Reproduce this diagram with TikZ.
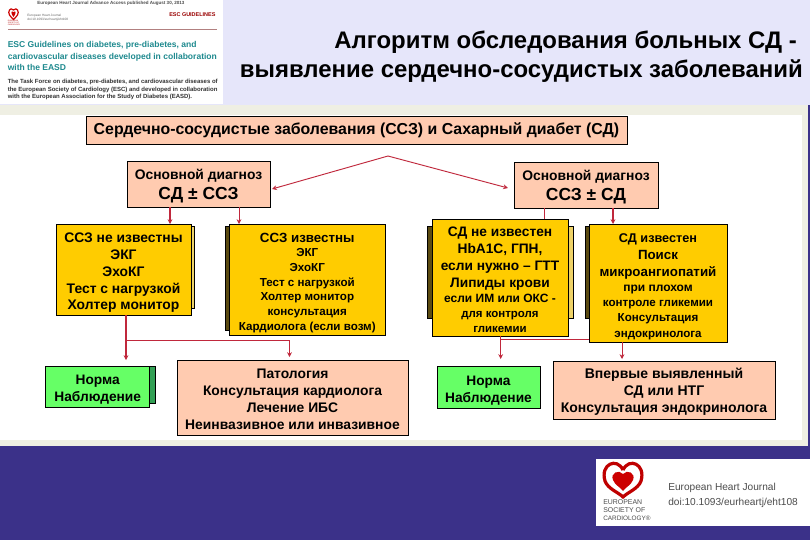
\documentclass[tikz,border=0pt]{standalone}
\usepackage{fontspec}
\usetikzlibrary{arrows.meta}
\setmainfont{Liberation Sans}
\definecolor{slidelav}{HTML}{E6E6FA}
\definecolor{slidenavy}{HTML}{3B3189}
\definecolor{slidebeige}{HTML}{EFEFE3}
\definecolor{peachbox}{HTML}{FFCBB0}
\definecolor{goldbox}{HTML}{FFCC00}
\definecolor{goldpale}{HTML}{F0D468}
\definecolor{golddark}{HTML}{5A4A10}
\definecolor{greenbox}{HTML}{66FF66}
\definecolor{greenback}{HTML}{33A055}
\definecolor{flowred}{HTML}{C0283C}
\definecolor{esctitle}{HTML}{1F8A8F}
\newcommand{\fs}[2]{\fontsize{#1}{#2}\selectfont}
\newcommand{\lsz}[1]{\fontsize{#1}{#1}\selectfont}
\newcommand{\drop}[1]{\rule{0pt}{#1pt}}

\begin{document}
\begin{tikzpicture}[
    x=0.75pt, y=-0.75pt,
    peach/.style={draw=black, fill=peachbox, line width=0.7pt, inner sep=0pt, align=center},
    gold/.style={draw=black, fill=goldbox, line width=0.7pt, inner sep=0pt, align=center},
    norma/.style={draw=black, fill=greenbox, line width=0.7pt, inner sep=0pt, align=center, font=\bfseries\fs{10.3}{12.75}},
    back/.style={draw=black, line width=0.7pt, inner sep=0pt},
    flow/.style={-{Stealth[length=3.6pt, width=3.6pt]}, draw=flowred, line width=0.7pt},
    flowfat/.style={flow, line width=1.2pt},
    tiny/.style={inner sep=0pt, anchor=west, align=left},
  ]
  \useasboundingbox (0,0) rectangle (810,540);

  % slide background
  \fill[slidelav] (0,0) rectangle (810,105);
  \fill[slidebeige] (0,105) rectangle (810,446);
  \fill[white] (0,115) rectangle (802,440);
  \fill[slidenavy] (0,446) rectangle (810,540);
  \fill[slidenavy] (808,105) rectangle (810,446);

  % paper header
  \fill[white] (0,0) rectangle (223,104);
  \node[tiny, font=\bfseries\fs{3.4}{4}, text=black!70] (hdr) at (37,3.5) {European Heart Journal Advance Access published August 30, 2013};
  \node[tiny, font=\bfseries\fs{4.1}{5}, text=red!60!black] (escg) at (169,15) {ESC GUIDELINES};
  \node[tiny, font=\fs{2.4}{3}, text=black!60] (ehj) at (27,18) {European Heart Journal\\doi:10.1093/eurheartj/eht108};
  \draw[red!80!black, line width=0.9pt] (13.5,10) .. controls (10,6.5) and (7.5,12) .. (9.5,15)
    .. controls (10.5,16.5) and (12,18) .. (13.5,19.5) .. controls (15,18) and (16.5,16.5) .. (17.5,15)
    .. controls (19.5,12) and (17,6.5) .. (13.5,10);
  \fill[red!80!black] (13.5,12) .. controls (11,10) and (10.5,13.5) .. (13.5,17)
    .. controls (16.5,13.5) and (16,10) .. (13.5,12);
  \node[tiny, font=\fs{1.4}{1.6}, text=red!70!black] (esctiny) at (7.5,23) {EUROPEAN\\SOCIETY OF\\CARDIOLOGY};
  \draw[red!40!black!50] (8,29) -- (217,29);
  \node[tiny, font=\bfseries\fs{6.4}{8.7}, text=esctitle] (esct) at (7.5,56)
    {ESC Guidelines on diabetes, pre-diabetes, and\\cardiovascular diseases developed in collaboration\\with the EASD};
  \node[tiny, font=\bfseries\fs{4.5}{5.6}, text=black!80] (tf) at (7.5,89.5)
    {The Task Force on diabetes, pre-diabetes, and cardiovascular diseases of\\the European Society of Cardiology (ESC) and developed in collaboration\\with the European Association for the Study of Diabetes (EASD).};

  % title
  \node[align=right, anchor=east, inner sep=0pt, font=\bfseries\fs{17.95}{22}] (title) at (803,57)
    {Алгоритм обследования больных СД -\hspace*{4.5pt}\\выявление сердечно-сосудистых заболеваний};

  % top box
  \fill[black] (212,143) rectangle (565,145.3);
  \node[peach, font=\bfseries\fs{11.9}{14}, minimum width=541*0.75pt, minimum height=28*0.75pt] (top) at (356.5,130)
    {Сердечно-сосудистые заболевания (ССЗ) и Сахарный диабет (СД)};

  \node[peach, font=\bfseries\fs{10.4}{15}, minimum width=143*0.75pt, minimum height=46*0.75pt] (main1) at (198.5,184)
    {\drop{11.5}Основной диагноз\\\lsz{13.1}СД ± ССЗ};
  \node[peach, font=\bfseries\fs{10.4}{15}, minimum width=144*0.75pt, minimum height=46*0.75pt] (main2) at (586,185)
    {\drop{11.5}Основной диагноз\\\lsz{13.1}ССЗ ± СД};

  \coordinate (peak) at (388,156);
  \coordinate (tipm1) at (272,189);
  \coordinate (tipm2) at (508,188);
  \draw[flow] (peak) -- (tipm1);
  \draw[flow] (peak) -- (tipm2);

  % left branch
  \node[back, fill=goldpale, minimum width=137*0.75pt, minimum height=82*0.75pt] (backa) at (125.5,267) {};
  \node[gold, font=\bfseries\fs{10.4}{12.7}, minimum width=135*0.75pt, minimum height=91*0.75pt] (boxa) at (123.5,269.5)
    {\drop{12}ССЗ не известны\\ЭКГ\\ЭхоКГ\\Тест с нагрузкой\\Холтер монитор};
  \node[back, fill=golddark, minimum width=157*0.75pt, minimum height=104*0.75pt] (backb) at (303.5,278) {};
  \node[gold, font=\bfseries\fs{8.7}{11}, minimum width=155.5*0.75pt, minimum height=111*0.75pt] (boxb) at (307.3,279.5)
    {\drop{12}\lsz{10}ССЗ известны\\ЭКГ\\ЭхоКГ\\Тест с нагрузкой\\Холтер монитор\\консультация\\Кардиолога (если возм)};

  \node[back, fill=greenback, minimum width=106*0.75pt, minimum height=37*0.75pt] (backn1) at (102.5,384.5) {};
  \node[norma, minimum width=103.5*0.75pt, minimum height=41*0.75pt] (norm1) at (97.7,386.5) {\drop{12}Норма\\Наблюдение};
  \node[peach, font=\bfseries\fs{10.4}{12.75}, minimum width=231*0.75pt, minimum height=75*0.75pt] (path) at (292.5,397.5)
    {\drop{10.5}Патология\\Консультация кардиолога\\Лечение ИБС\\Неинвазивное или инвазивное};

  \coordinate (tipa) at (170,224);
  \coordinate (tipb) at (239,224);
  \draw[flowfat] (main1.south -| tipa) -- (tipa);
  \draw[flow] (main1.south -| tipb) -- (tipb);
  \coordinate (forka) at (126,340);
  \coordinate (tipn1) at (126,360);
  \coordinate (tippath) at (289.5,357);
  \draw[flowfat] (boxa.south -| forka) -- (tipn1);
  \draw[flow] (forka) -| (tippath);

  % right branch
  \node[back, left color=golddark, right color=goldpale, minimum width=146*0.75pt, minimum height=92*0.75pt] (backc) at (500,272) {};
  \node[gold, font=\bfseries\fs{8.6}{11.25}, minimum width=136*0.75pt, minimum height=117*0.75pt] (boxc) at (500,277.5)
    {\drop{11}\lsz{10.3}СД не известен\\[1.4pt]\lsz{10.3}HbA1C, ГПН,\\[1.4pt]\lsz{10.3}если нужно – ГТТ\\[1.4pt]\lsz{10.3}Липиды крови\\\lsz{9}если ИМ или ОКС -\\для контроля\\гликемии};
  \node[back, fill=golddark, minimum width=20*0.75pt, minimum height=92*0.75pt] (backd) at (595,272) {};
  \node[gold, font=\bfseries\fs{8.7}{11.25}, minimum width=138*0.75pt, minimum height=118*0.75pt] (boxd) at (658,283)
    {\drop{12}\lsz{9.5}СД известен\\[1.4pt]\lsz{10}Поиск\\[1.4pt]\lsz{10}микроангиопатий\\\lsz{9}при плохом\\контроле гликемии\\Консультация\\[1pt]эндокринолога};

  \node[norma, minimum width=103*0.75pt, minimum height=42*0.75pt] (norm2) at (488.5,387) {\drop{12}Норма\\Наблюдение};
  \node[peach, font=\bfseries\fs{10.5}{12.75}, minimum width=222*0.75pt, minimum height=58*0.75pt] (first) at (664,390)
    {\drop{10.5}Впервые выявленный\\СД или НТГ\\Консультация эндокринолога};

  \coordinate (tipc) at (544,219);
  \coordinate (tipd) at (613,224);
  \draw[flow, -] (main2.south -| tipc) -- (tipc);
  \draw[flowfat] (main2.south -| tipd) -- (tipd);
  \coordinate (tipn2) at (500.7,359);
  \coordinate (tipfirst) at (622,359);
  \coordinate (forkc) at (500.7,339);
  \draw[flow] (boxc.south -| tipn2) -- (tipn2);
  \draw[flow] (boxd.south -| tipfirst) -- (tipfirst);
  \draw[flow, -] (forkc) -- (boxd.west |- forkc);

  % journal logo
  \fill[white] (596,459) rectangle (810,526);
  \begin{scope}[shift={(623,480)}]
    \draw[red!75!black, line width=2.4pt] (0,-10) .. controls (-6,-23) and (-23,-16) .. (-18,1)
      .. controls (-15,9) and (-5,12) .. (0,17) .. controls (5,12) and (15,9) .. (18,1)
      .. controls (23,-16) and (6,-23) .. (0,-10);
    \fill[red!80!black] (0,-6) .. controls (-4,-11) and (-13,-7) .. (-10,0)
      .. controls (-8,5) and (-3,7) .. (0,11) .. controls (3,7) and (8,5) .. (10,0)
      .. controls (13,-7) and (4,-11) .. (0,-6);
  \end{scope}
  \node[tiny, font=\fs{5.2}{6}, text=black!70] (esclogo) at (603,510)
    {EUROPEAN\\SOCIETY OF\\\lsz{4.8}CARDIOLOGY®};
  \node[tiny, font=\fs{7.6}{11.25}, text=black!70] (ehjlogo) at (668,495.5)
    {European Heart Journal\\doi:10.1093/eurheartj/eht108};
\end{tikzpicture}
\end{document}
